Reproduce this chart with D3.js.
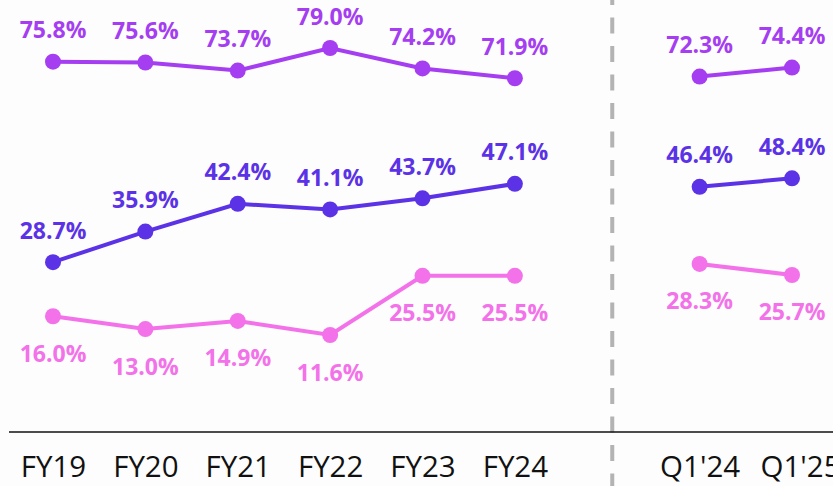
<!DOCTYPE html>
<html>
<head>
<meta charset="utf-8">
<script src="https://cdn.jsdelivr.net/npm/d3@7"></script>
<style>
  html, body { margin: 0; padding: 0; background: #fdfdfd; }
  svg { display: block; }
</style>
</head>
<body>
<div id="chart"></div>
<script>
// categorias do eixo x (o "gap" e so um espaco entre anos e trimestres)
var fyLabels = ["FY19", "FY20", "FY21", "FY22", "FY23", "FY24"];
var qLabels = ["Q1'24", "Q1'25"];

// series (%)
var topFY = [75.8, 75.6, 73.7, 79.0, 74.2, 71.9];
var topQ = [72.3, 74.4];
var midFY = [28.7, 35.9, 42.4, 41.1, 43.7, 47.1];
var midQ = [46.4, 48.4];
var lowFY = [16.0, 13.0, 14.9, 11.6, 25.5, 25.5];
var lowQ = [28.3, 25.7];

var W = 833, H = 486;

var svg = d3.select("#chart")
            .append("svg")
            .attr("width", W)
            .attr("height", H);

var x = d3.scalePoint()
          .domain(fyLabels.concat(["gap"], qLabels))
          .range([53, 792]);

var y = d3.scaleLinear()
          .domain([0, 100])
          .range([384.4, -41.4]);

var series = [
    {fy: topFY, q: topQ, color: "#a53df1", pos: "above"},
    {fy: midFY, q: midQ, color: "#5b32e6", pos: "above"},
    {fy: lowFY, q: lowQ, color: "#f371e9", pos: "below"}
];

// linha tracejada separando anos e trimestres
var sepX = (x("FY24") + x(qLabels[0])) / 2 + 5;
svg.append("line")
    .attr("x1", sepX).attr("x2", sepX)
    .attr("y1", -11).attr("y2", H)
    .attr("stroke", "#b3b3b3")
    .attr("stroke-width", 4)
    .attr("stroke-dasharray", "16,12.5");

// eixo x
var axis = svg.append("g")
    .attr("transform", "translate(0,432)")
    .call(d3.axisBottom(x).tickValues(fyLabels.concat(qLabels)).tickSize(0).tickPadding(36));
axis.select(".domain")
    .attr("d", "M9,0H" + W)
    .attr("stroke", "#111")
    .attr("stroke-width", 1.6);
axis.selectAll("text")
    .attr("font-family", "'Open Sans', 'Noto Sans', sans-serif")
    .attr("font-size", 29.5)
    .attr("fill", "#111")
    .attr("dy", "0.3em");
// o ultimo rotulo fica cortado na borda, como no original
axis.selectAll(".tick")
    .filter(function(d){ return d == qLabels[1]; })
    .select("text")
    .attr("dx", 8);

var line = d3.line()
    .x(function(d){ return x(d.k); })
    .y(function(d){ return y(d.v); });

series.forEach(function(s){
    var segs = [
        s.fy.map(function(v, i){ return {k: fyLabels[i], v: v}; }),
        s.q.map(function(v, i){ return {k: qLabels[i], v: v}; })
    ];
    segs.forEach(function(pts){
        svg.append("path")
            .datum(pts)
            .attr("d", line)
            .attr("fill", "none")
            .attr("stroke", s.color)
            .attr("stroke-width", 4);

        svg.selectAll(null)
            .data(pts)
            .enter()
            .append("circle")
            .attr("cx", function(d){ return x(d.k); })
            .attr("cy", function(d){ return y(d.v); })
            .attr("r", 8)
            .attr("fill", s.color);

        svg.selectAll(null)
            .data(pts)
            .enter()
            .append("text")
            .attr("x", function(d){ return x(d.k); })
            .attr("y", function(d){ return y(d.v) + (s.pos == "above" ? -23.5 : 45.5); })
            .attr("text-anchor", "middle")
            .attr("font-family", "'Open Sans', 'Noto Sans', sans-serif")
            .attr("font-weight", "bold")
            .attr("font-size", 23)
            .attr("fill", s.color)
            .text(function(d){ return d.v.toFixed(1) + "%"; });
    });
});
</script>
</body>
</html>
